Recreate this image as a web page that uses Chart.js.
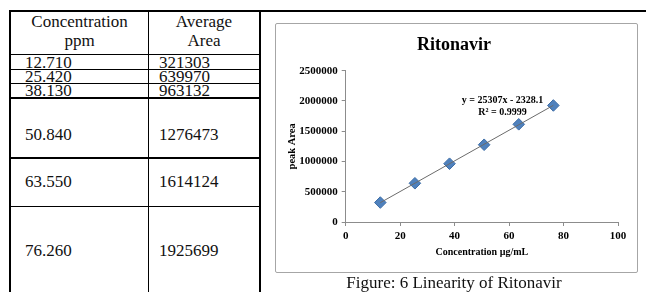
<!DOCTYPE html>
<html>
<head>
<meta charset="utf-8">
<script src="https://cdn.jsdelivr.net/npm/chart.js@4.4.1/dist/chart.umd.min.js"></script>
<style>
  html, body { margin: 0; padding: 0; background: #fff; }
  body { width: 646px; height: 292px; position: relative; overflow: hidden;
         font-family: "Liberation Serif", "Times New Roman", serif; }
  .ln { position: absolute; background: #000; }
  .cell { position: absolute; font-size: 17px; line-height: 20px; color: #111; white-space: nowrap; }
  .ctr { text-align: center; }
  #box { position: absolute; left: 275px; top: 23px; width: 361px; height: 248px;
         border: 1px solid #a6a6a6; border-radius: 2px; }
  #wrap { position: absolute; left: 262px; top: 12px; width: 384px; height: 280px; }
  #caption { position: absolute; left: 262px; width: 384px; top: 273px; font-size: 17px;
             line-height: 20px; text-align: center; color: #111; }
</style>
</head>
<body>
<div id="table"></div>
<div id="box"></div>
<div id="wrap"><canvas id="chart"></canvas></div>
<div id="caption">Figure: 6 Linearity of Ritonavir</div>
<script>
// table / chart data
const concentration = [12.710, 25.420, 38.130, 50.840, 63.550, 76.260];
const concLabels = ['12.710', '25.420', '38.130', '50.840', '63.550', '76.260'];
const avgArea = [321303, 639970, 963132, 1276473, 1614124, 1925699];
const trendX = [12.71, 76.26];
const trendY = [319300, 1927600];
const xTicks = [0, 20, 40, 60, 80, 100];
const yTicks = [0, 500000, 1000000, 1500000, 2000000, 2500000];
const equation = ['y = 25307x - 2328.1', 'R\u00B2 = 0.9999'];

// --- the table on the left ---
const table = document.getElementById('table');
function line(x, y, w, h) {
  const d = document.createElement('div');
  d.className = 'ln';
  d.style.left = x + 'px'; d.style.top = y + 'px';
  d.style.width = w + 'px'; d.style.height = h + 'px';
  table.appendChild(d);
}
function text(str, x, y, w, center) {
  const d = document.createElement('div');
  d.className = 'cell' + (center ? ' ctr' : '');
  d.textContent = str;
  d.style.left = x + 'px'; d.style.top = y + 'px';
  if (w) d.style.width = w + 'px';
  table.appendChild(d);
}
// row rulings (y of the line under each row)
const rowLines = [54, 69, 83, 97, 157, 206];
const thick = [false, false, false, true, true, false];

line(9, 10, 638, 2);     // top border across table and figure cell
line(9, 10, 2, 282);     // left border
line(148, 10, 1, 282);   // column divider
line(259, 10, 2, 282);   // right border of table
rowLines.forEach((y, i) => line(9, y, 251, thick[i] ? 2 : 1));

text('Concentration', 11, 12, 137, true);
text('ppm', 11, 31, 137, true);
text('Average', 149, 12, 110, true);
text('Area', 149, 31, 110, true);

const rowMid = [63, 77, 91, 135, 182, 251];
concLabels.forEach((c, i) => {
  text(c, 25, rowMid[i] - 10);
  text(String(avgArea[i]), 159, rowMid[i] - 10);
});

// --- the chart ---
const serif = '"Liberation Serif", "Times New Roman", serif';

const equationLabel = {
  id: 'equationLabel',
  afterDatasetsDraw(chart) {
    const { ctx, scales: { x, y } } = chart;
    ctx.save();
    ctx.font = 'bold 10px ' + serif;
    ctx.fillStyle = '#000';
    ctx.textAlign = 'center';
    ctx.textBaseline = 'middle';
    const px = x.getPixelForValue(57.6);
    ctx.fillText(equation[0], px, y.getPixelForValue(2016000));
    ctx.fillText(equation[1], px, y.getPixelForValue(1818000));
    ctx.restore();
  }
};

new Chart(document.getElementById('chart'), {
  type: 'scatter',
  data: {
    datasets: [
      {
        type: 'line',
        data: trendX.map((v, i) => ({ x: v, y: trendY[i] })),
        borderColor: '#6b6b6b',
        borderWidth: 1,
        pointRadius: 0,
        fill: false
      },
      {
        data: concentration.map((v, i) => ({ x: v, y: avgArea[i] })),
        pointStyle: 'rectRot',
        pointRadius: 5.8,
        backgroundColor: '#4f81bd',
        borderColor: '#3d6da6',
        borderWidth: 1
      }
    ]
  },
  options: {
    responsive: true,
    maintainAspectRatio: false,
    animation: false,
    layout: { padding: 0 },
    plugins: {
      legend: { display: false },
      tooltip: { enabled: false },
      title: {
        display: true,
        text: 'Ritonavir',
        color: '#000',
        font: { family: serif, size: 18, weight: 'bold', lineHeight: 1.2 },
        padding: { top: 22.2, bottom: 14.9 }
      }
    },
    scales: {
      x: {
        type: 'linear',
        min: 0, max: 100,
        afterBuildTicks: s => { s.ticks = xTicks.map(v => ({ value: v })); },
        afterFit: s => { s.height = 70; s.paddingRight = 28; s.paddingLeft = 0; },
        border: { color: '#8c8c8c', width: 1 },
        grid: { drawOnChartArea: false, color: '#8c8c8c', tickLength: 4 },
        ticks: { color: '#000', padding: 4, font: { family: serif, size: 11, weight: 'bold' } },
        title: {
          display: true, text: 'Concentration \u00B5g/mL', color: '#000',
          font: { family: serif, size: 10, weight: 'bold', lineHeight: 1.2 },
          padding: { top: 0, bottom: 33.3 }
        }
      },
      y: {
        min: 0, max: 2500000,
        afterBuildTicks: s => { s.ticks = yTicks.map(v => ({ value: v })); },
        afterFit: s => { s.width = 83.7; },
        border: { color: '#8c8c8c', width: 1 },
        grid: { drawOnChartArea: false, color: '#8c8c8c', tickLength: 4 },
        ticks: { color: '#000', padding: 4, font: { family: serif, size: 11, weight: 'bold' },
                 callback: v => String(v) },
        title: {
          display: true, text: 'peak Area', color: '#000',
          font: { family: serif, size: 10.5, weight: 'bold', lineHeight: 1.2 },
          padding: { top: 24, bottom: 0 }
        }
      }
    }
  },
  plugins: [equationLabel]
});
</script>
</body>
</html>
